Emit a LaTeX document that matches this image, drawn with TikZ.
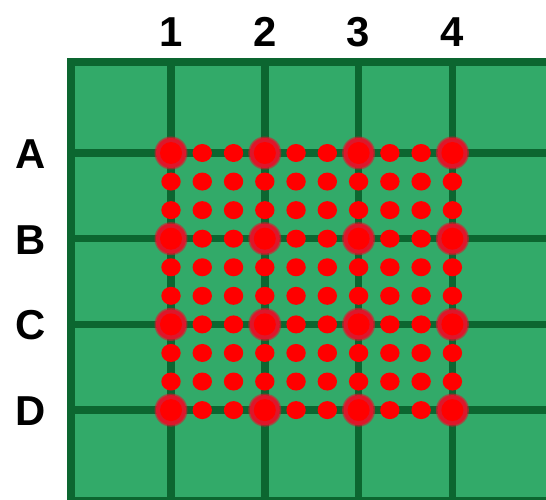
\documentclass[tikz,border=0pt]{standalone}
\usepackage{fontspec}
\setmainfont{Liberation Sans}
\definecolor{boardfill}{RGB}{50,170,105}
\definecolor{boardline}{RGB}{12,102,48}
\definecolor{dotred}{RGB}{255,0,0}
\definecolor{rimred}{RGB}{222,22,42}
\begin{document}
\begin{tikzpicture}[x=1bp,y=-1bp,
  gridline/.style={draw=boardline,line width=7.5bp},
  lbl/.style={font=\fontsize{42}{42}\selectfont\bfseries,text=black,inner sep=0pt},
  smalldot/.style={fill=dotred},
  bigrim/.style={fill=rimred},
  bigcore/.style={fill=dotred}]
\useasboundingbox (0,0) rectangle (546,500);
\fill[white] (0,0) rectangle (546,500);
% board
\fill[boardfill] (67,58) rectangle (560,510);
\draw[gridline,line width=8bp] (560,62) -- (71,62) -- (71,501) -- (560,501);
% grid lines
\foreach \i in {0,1,2,3} {
  \draw[gridline] ({171+93.8*\i},62) -- ({171+93.8*\i},501);
  \draw[gridline] (71,{153+85.7*\i}) -- (560,{153+85.7*\i});
}
% labels
\foreach \n [count=\i from 0] in {1,2,3,4}
  \node[lbl] (col\n) at ({171+93.8*\i},32) {\n};
\foreach \n [count=\i from 0] in {A,B,C,D}
  \node[lbl] (row\n) at (31,{154+85.7*\i}) {\n};
% dots
\foreach \i in {0,...,9} {
  \foreach \j in {0,...,9} {
    \pgfmathtruncatemacro{\ri}{mod(\i,3)}
    \pgfmathtruncatemacro{\rj}{mod(\j,3)}
    \ifnum\ri=0 \ifnum\rj=0
      \fill[bigrim,opacity=0.6] ({171+93.8*\i/3},{153+85.7*\j/3}) circle (16.5);
      \fill[bigrim] ({171+93.8*\i/3},{153+85.7*\j/3}) circle (15);
      \fill[bigcore] ({171+93.8*\i/3},{153+85.7*\j/3}) circle (11);
    \else
      \fill[smalldot] ({171+93.8*\i/3},{153+85.7*\j/3}) ellipse (9.7 and 9);
    \fi \else
      \fill[smalldot] ({171+93.8*\i/3},{153+85.7*\j/3}) ellipse (9.7 and 9);
    \fi
  }
}
\end{tikzpicture}
\end{document}
